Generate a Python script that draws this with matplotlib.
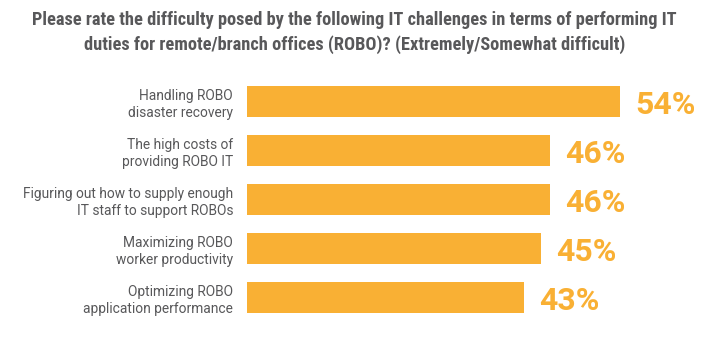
import matplotlib
matplotlib.use("Agg")
import matplotlib.pyplot as plt
from matplotlib import font_manager

# ================= DATA =================
labels = [
    "Handling ROBO\ndisaster recovery",
    "The high costs of\nproviding ROBO IT",
    "Figuring out how to supply enough\nIT staff to support ROBOs",
    "Maximizing ROBO\nworker productivity",
    "Optimizing ROBO\napplication performance",
]
values = [54, 46, 46, 45, 43]

title = ("Please rate the difficulty posed by the following IT challenges in terms of performing IT\n"
         "duties for remote/branch offices (ROBO)? (Extremely/Somewhat difficult)")

ORANGE = "#F9B034"
GRAY = "#58585A"

names = {f.name for f in font_manager.fontManager.ttflist}
title_font = "Liberation Sans Narrow" if "Liberation Sans Narrow" in names else "Roboto Condensed"

fig = plt.figure(figsize=(7.09, 3.5), dpi=100)
ax = fig.add_axes([247 / 709, 0.0786, 1 - 247 / 709, 0.701])

y = list(range(len(values)))
ax.barh(y, values, height=0.63, color=ORANGE)
ax.set_ylim(len(values) - 0.5, -0.5)
ax.set_xlim(11.4, 64.2)

ax.set_yticks(y)
ax.set_yticklabels(labels, fontsize=9.9, color=GRAY, family="Roboto", linespacing=1.25)
ax.tick_params(axis="y", length=0, pad=10)
ax.set_xticks([])
for s in ax.spines.values():
    s.set_visible(False)

for i, v in enumerate(values):
    ax.annotate(f"{v}%", (v, i), xytext=(11, 0), textcoords="offset points",
                ha="left", va="center_baseline", fontsize=23, fontweight="bold",
                color=ORANGE, family="Roboto")

fig.text(0.5, 0.968, title, ha="center", va="top", fontsize=13.2,
         fontweight="bold", color=GRAY, family=title_font, linespacing=1.38)

fig.savefig("out.png", dpi=100)
